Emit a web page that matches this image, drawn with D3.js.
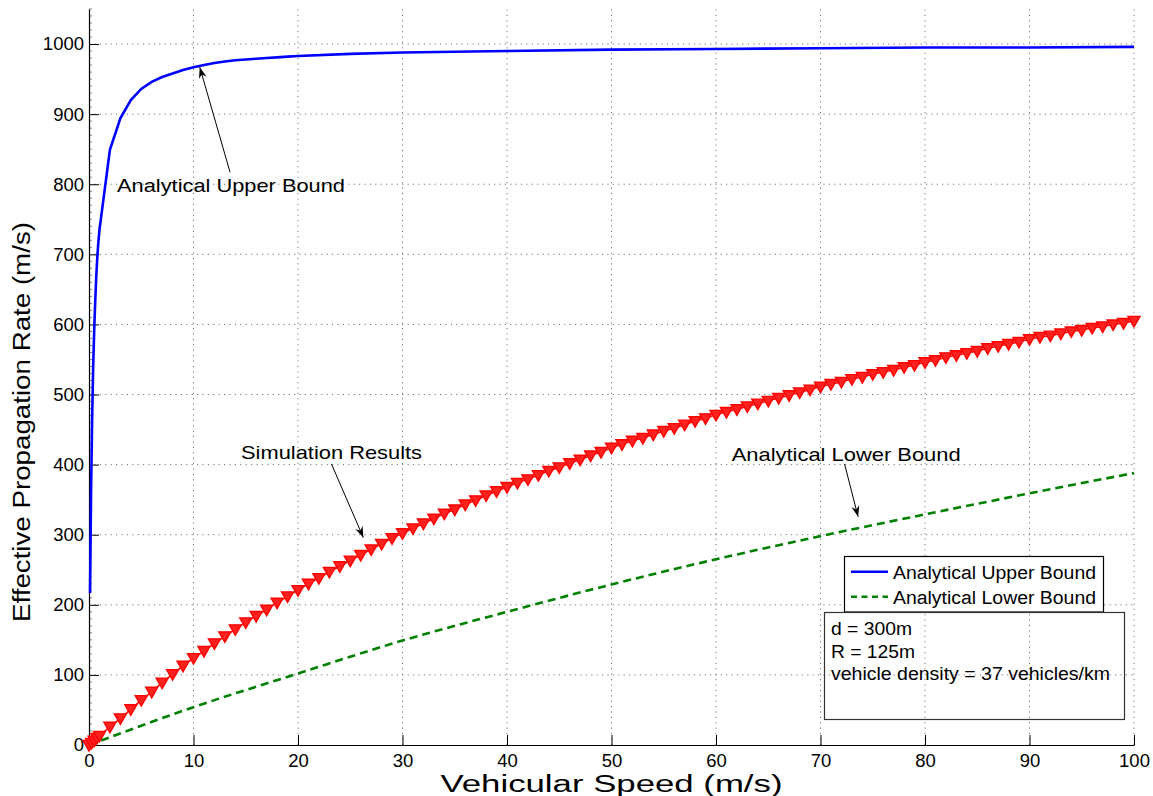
<!DOCTYPE html>
<html>
<head>
<meta charset="utf-8">
<script src="https://cdn.jsdelivr.net/npm/d3@7"></script>
<style>
  html, body { margin: 0; padding: 0; background: #fff; }
  svg { display: block; }
  text { font-family: "Liberation Sans", Arial, Helvetica, sans-serif; fill: #000; }
</style>
</head>
<body>
<svg id="chart" width="1153" height="796"></svg>
<script>
// ---------------- data ----------------
const upperX = [0.1,0.2,0.3,0.4,0.5,0.6,0.7,0.8,0.9,1,2,3,4,5,6,7,8,9,10,11,12,13,14,15,16,17,18,19,20,25,30,35,40,50,60,70,80,90,100];
const upperY = [217,365,465,540,593,635,670,697,718,735,849,894,920,936,946,953,958,963,967,970,973,975,977,978,979,980,981,982,983,986,988,989,990,992,993,994,995,995,996];

const lowerX = [0,10,20,30,40,50,60,70,80,90,100];
const lowerY = [0,54,102,149,190,229,265,298,329,359,388];

const simX = [0,0.25,0.5,0.75,1,2,3,4,5,6,7,8,9,10,11,12,13,14,15,16,17,18,19,20,21,22,23,24,25,26,27,28,29,30,31,32,33,34,35,36,37,38,39,40,41,42,43,44,45,46,47,48,49,50,51,52,53,54,55,56,57,58,59,60,61,62,63,64,65,66,67,68,69,70,71,72,73,74,75,76,77,78,79,80,81,82,83,84,85,86,87,88,89,90,91,92,93,94,95,96,97,98,99,100];
const simY = [0,3,6,10,13,26,38,51,64,76,89,101,113,124,134,145,155,165,175,184,193,203,212,221,230,238,247,255,263,271,279,287,295,302,309,316,323,330,336,343,349,356,362,368,374,379,385,391,396,402,407,413,418,424,429,434,438,443,448,452,457,462,466,471,475,479,483,487,491,495,499,503,507,511,515,518,522,525,529,532,535,539,542,546,549,553,556,559,562,566,569,572,575,579,582,584,587,590,592,595,597,600,602,605];

const xTicks = [0,10,20,30,40,50,60,70,80,90,100];
const yTicks = [0,100,200,300,400,500,600,700,800,900,1000];

const xLabel = "Vehicular Speed (m/s)";
const yLabel = "Effective Propagation Rate (m/s)";
const legendNames = ["Analytical Upper Bound", "Analytical Lower Bound"];
const infoLines = ["d = 300m", "R = 125m", "vehicle density = 37 vehicles/km"];

// annotations: text, text anchor (data), arrow tail (data), arrow head (data)
const annoText = ["Analytical Upper Bound", "Simulation Results", "Analytical Lower Bound"];
const annoTextX = [2.68, 14.55, 61.5];
const annoTextY = [789, 408, 405];
const annoTailX = [13.5, 23.2, 72.3];
const annoTailY = [817, 401, 401];
const annoHeadX = [10.6, 26.25, 73.6];
const annoHeadY = [967, 296, 325.5];

// ---------------- layout ----------------
const svg = d3.select("#chart");
const X0 = 89, X1 = 1134, Y0 = 745, Y1 = 9;
const x = d3.scaleLinear().domain([0, 100]).range([X0, X1]);
const y = d3.scaleLinear().domain([0, 1050]).range([Y0, Y1]);
const FONT = 18.5;

// grid
const grid = svg.append("g");
grid.selectAll(".vg").data(xTicks.filter(d => d > 0)).join("line")
  .attr("x1", d => x(d)).attr("x2", d => x(d)).attr("y1", Y0).attr("y2", Y1)
  .attr("stroke", "#777").attr("stroke-width", 1).attr("stroke-dasharray", "1.2,4.2");
grid.selectAll(".hg").data(yTicks.filter(d => d > 0)).join("line")
  .attr("x1", X0).attr("x2", X1).attr("y1", d => y(d)).attr("y2", d => y(d))
  .attr("stroke", "#777").attr("stroke-width", 1).attr("stroke-dasharray", "1.2,4.2");

// minor y ticks
const minorY = d3.range(0, 1051, 10).filter(v => v % 100 !== 0);
svg.append("g").selectAll("line").data(minorY).join("line")
  .attr("x1", X0).attr("x2", X0 + 3).attr("y1", d => y(d)).attr("y2", d => y(d))
  .attr("stroke", "#666").attr("stroke-width", 0.8);

// axes
const xAxis = d3.axisBottom(x).tickValues(xTicks).tickFormat(d3.format("d")).tickSizeInner(-10).tickSizeOuter(0).tickPadding(12);
const yAxis = d3.axisLeft(y).tickValues(yTicks).tickFormat(d3.format("d")).tickSizeInner(-10).tickSizeOuter(0).tickPadding(15);
const gx = svg.append("g").attr("transform", `translate(0,${Y0})`).call(xAxis);
const gy = svg.append("g").attr("transform", `translate(${X0},0)`).call(yAxis);
[gx, gy].forEach(g => {
  g.select(".domain").attr("stroke", "#000").attr("stroke-width", 1.2);
  g.selectAll(".tick line").attr("stroke", "#000").attr("stroke-width", 1);
  g.selectAll(".tick text").attr("font-family", "Liberation Sans, Arial, sans-serif")
    .attr("font-size", FONT).attr("fill", "#000");
});
gx.selectAll(".tick text").attr("dy", "0.71em").attr("y", 9);
gy.selectAll(".tick text").attr("x", -5);

// axis labels
svg.append("text").attr("x", x(50)).attr("y", 792).attr("text-anchor", "middle")
  .attr("font-size", 23).attr("textLength", 342).attr("lengthAdjust", "spacingAndGlyphs")
  .text(xLabel);
svg.append("text").attr("transform", `translate(30,${(222 + 622) / 2}) rotate(-90)`)
  .attr("text-anchor", "middle").attr("font-size", 23)
  .attr("textLength", 400).attr("lengthAdjust", "spacingAndGlyphs")
  .text(yLabel);

// lines
const lineGen = d3.line().x(d => x(d[0])).y(d => y(d[1]));
svg.append("path").datum(lowerX.map((v, i) => [v, lowerY[i]]))
  .attr("d", lineGen.curve(d3.curveMonotoneX)).attr("fill", "none")
  .attr("stroke", "#008000").attr("stroke-width", 2.6).attr("stroke-dasharray", "8,5");
const lineLin = d3.line().x(d => x(d[0])).y(d => y(d[1]));
svg.append("path").datum(simX.map((v, i) => [v, simY[i]]))
  .attr("d", lineLin).attr("fill", "none").attr("stroke", "#ff0000").attr("stroke-width", 1.5);
svg.append("path").datum(upperX.map((v, i) => [v, upperY[i]]))
  .attr("d", lineLin).attr("fill", "none").attr("stroke", "#0000ff").attr("stroke-width", 2.6);

// markers (downward triangles)
const tri = "M-6,-4.5 L6,-4.5 L0,6 Z";
svg.append("g").selectAll("path").data(simX.map((v, i) => [v, simY[i]])).join("path")
  .attr("transform", d => `translate(${x(d[0])},${y(d[1])})`)
  .attr("d", tri).attr("fill", "#ff2020").attr("stroke", "#ff0000").attr("stroke-width", 1.4)
  .attr("stroke-linejoin", "miter");

// legend
const lg = svg.append("g");
lg.append("rect").attr("x", 844.5).attr("y", 556.5).attr("width", 259).attr("height", 55.5)
  .attr("fill", "#fff").attr("stroke", "#000").attr("stroke-width", 1.2);
const legColors = ["#0000ff", "#008000"];
const legDash = [null, "6,4.5"];
legendNames.forEach((nm, i) => {
  const yy = 571.7 + i * 25;
  lg.append("line").attr("x1", 851).attr("x2", 888).attr("y1", yy).attr("y2", yy)
    .attr("stroke", legColors[i]).attr("stroke-width", 2.4).attr("stroke-dasharray", legDash[i]);
  lg.append("text").attr("x", 893).attr("y", yy + 7.3).attr("font-size", 18)
    .attr("textLength", 203).attr("lengthAdjust", "spacingAndGlyphs").text(nm);
});

// info box (transparent)
const ib = svg.append("g");
ib.append("rect").attr("x", 824.5).attr("y", 612.5).attr("width", 300).attr("height", 107)
  .attr("fill", "none").attr("stroke", "#333").attr("stroke-width", 1.2);
const infoLen = [81, 84, 279];
infoLines.forEach((t, i) => {
  ib.append("text").attr("x", 831).attr("y", 635 + i * 22.5).attr("font-size", 18)
    .attr("textLength", infoLen[i]).attr("lengthAdjust", "spacingAndGlyphs").text(t);
});

// annotations
const defs = svg.append("defs");
defs.append("marker").attr("id", "ah").attr("viewBox", "-12 -6 14 12")
  .attr("refX", 0).attr("refY", 0).attr("markerWidth", 14).attr("markerHeight", 12)
  .attr("markerUnits", "userSpaceOnUse").attr("orient", "auto")
  .append("path").attr("d", "M0,0 L-11,-4 L-7.5,0 L-11,4 Z").attr("fill", "#000");
const annoLen = [228, 181, 229];
annoText.forEach((t, i) => {
  svg.append("text").attr("x", x(annoTextX[i])).attr("y", y(annoTextY[i]))
    .attr("font-size", 18.6).attr("textLength", annoLen[i]).attr("lengthAdjust", "spacingAndGlyphs")
    .text(t);
  svg.append("line").attr("x1", x(annoTailX[i])).attr("y1", y(annoTailY[i]))
    .attr("x2", x(annoHeadX[i])).attr("y2", y(annoHeadY[i]))
    .attr("stroke", "#000").attr("stroke-width", 1).attr("marker-end", "url(#ah)");
});
</script>
</body>
</html>
